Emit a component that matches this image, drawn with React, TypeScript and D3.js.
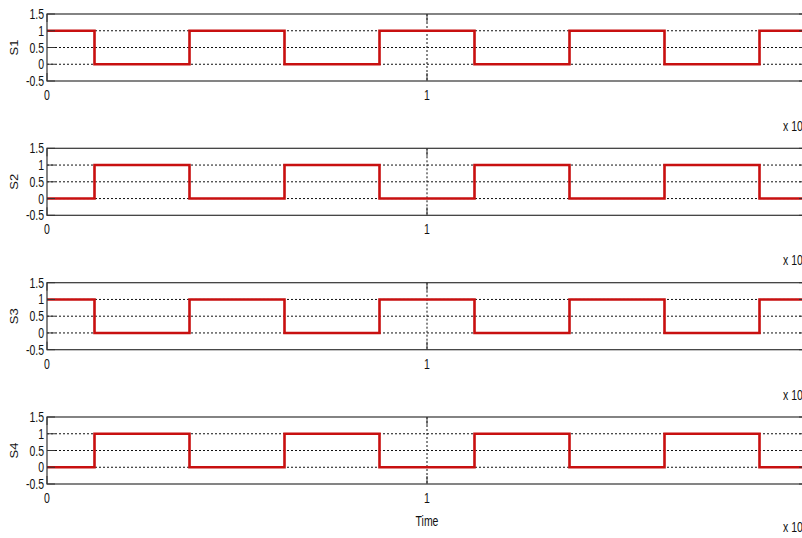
import React from "react";
import * as d3 from "d3";

// switching instants (time axis, units of x 10^n) and the level held after each
const edgeTimes = [0, 0.125, 0.375, 0.625, 0.875, 1.125, 1.375, 1.625, 1.875, 2.0];
const s1Levels = [1, 0, 1, 0, 1, 0, 1, 0, 1, 1];
const s2Levels = [0, 1, 0, 1, 0, 1, 0, 1, 0, 0];
const s3Levels = [1, 0, 1, 0, 1, 0, 1, 0, 1, 1];
const s4Levels = [0, 1, 0, 1, 0, 1, 0, 1, 0, 0];

const seriesNames = ["S1", "S2", "S3", "S4"];
const seriesLevels = [s1Levels, s2Levels, s3Levels, s4Levels];

const yTicks = [-0.5, 0, 0.5, 1, 1.5];
const yTickLabels = ["-0.5", "0", "0.5", "1", "1.5"];
// the tick at 2 sits past the right edge of the window, so only 0 and 1 get labels
const xTicks = [0, 1, 2];
const xTickLabels = ["0", "1"];

const W = 802;
const H = 538;
const plotLeft = 47;
const plotRight = 807;
const panelTops = [14, 148.3, 282.7, 417];
const panelH = 67;
const FONT = "'Liberation Sans', Arial, sans-serif";
const SQ = 0.7; // horizontal squeeze of the text

const Panel = ({ name, levels, top, last }: { name: string; levels: number[]; top: number; last: boolean }) => {
  const x = d3.scaleLinear().domain([0, 2]).range([plotLeft, plotRight]);
  const y = d3.scaleLinear().domain([-0.5, 1.5]).range([top + panelH, top]);
  const pts = edgeTimes.map((t, i) => [t, levels[i]] as [number, number]);
  const line = d3
    .line<[number, number]>()
    .x((d) => x(d[0]))
    .y((d) => y(d[1]))
    .curve(d3.curveStepAfter);
  const tickLen = 8;
  const sq = (tx: number, ty: number) => `translate(${tx},${ty}) scale(${SQ},1)`;

  return (
    <g>
      {/* grid */}
      {yTicks
        .filter((v) => v > -0.5 && v < 1.5)
        .map((v) => (
          <line key={"gy" + v} x1={plotLeft} x2={plotRight} y1={y(v)} y2={y(v)} stroke="#111" strokeWidth={1} strokeDasharray="2,2" />
        ))}
      {xTicks
        .filter((v) => v > 0 && v < 2)
        .map((v) => (
          <line key={"gx" + v} x1={x(v)} x2={x(v)} y1={top} y2={top + panelH} stroke="#111" strokeWidth={1} strokeDasharray="2,2" />
        ))}

      {/* signal */}
      <path d={line(pts) || ""} fill="none" stroke="#c81010" strokeWidth={2.6} strokeLinejoin="miter" />

      {/* box */}
      <rect x={plotLeft} y={top} width={plotRight - plotLeft} height={panelH} fill="none" stroke="#333" strokeWidth={1.2} />

      {/* ticks */}
      {yTicks.map((v) => (
        <g key={"ty" + v}>
          <line x1={plotLeft} x2={plotLeft + tickLen} y1={y(v)} y2={y(v)} stroke="#333" />
          <line x1={plotRight} x2={plotRight - tickLen} y1={y(v)} y2={y(v)} stroke="#333" />
        </g>
      ))}
      {xTicks.map((v) => (
        <g key={"tx" + v}>
          <line x1={x(v)} x2={x(v)} y1={top} y2={top + tickLen} stroke="#333" />
          <line x1={x(v)} x2={x(v)} y1={top + panelH} y2={top + panelH - tickLen} stroke="#333" />
        </g>
      ))}

      {/* tick labels */}
      {yTicks.map((v, i) => (
        <text key={"ly" + v} transform={sq(plotLeft - 3, y(v) + 5)} textAnchor="end" fontFamily={FONT} fontSize={15} fill="#111">
          {yTickLabels[i]}
        </text>
      ))}
      {xTickLabels.map((lab, i) => (
        <text key={"lx" + lab} transform={sq(x(xTicks[i]), top + panelH + 19)} textAnchor="middle" fontFamily={FONT} fontSize={15} fill="#111">
          {lab}
        </text>
      ))}

      {/* y label */}
      <text transform={`translate(18,${top + panelH / 2}) rotate(-90) scale(1,0.8)`} textAnchor="middle" fontFamily={FONT} fontSize={13} fill="#111">
        {name}
      </text>

      {/* exponent */}
      <text transform={sq(783, top + panelH + (last ? 48 : 50))} fontFamily={FONT} fontSize={15} fill="#111">
        x 10
      </text>

      {last && (
        <text transform={sq(x(1), top + panelH + 42)} textAnchor="middle" fontFamily={FONT} fontSize={15} fill="#111">
          Time
        </text>
      )}
    </g>
  );
};

export default function App() {
  return (
    <svg width={W} height={H} style={{ position: "absolute", left: 0, top: 0, background: "#fff" }}>
      <rect x={0} y={0} width={W} height={H} fill="#fff" />
      {seriesNames.map((n, i) => (
        <Panel key={n} name={n} levels={seriesLevels[i]} top={panelTops[i]} last={i === seriesNames.length - 1} />
      ))}
    </svg>
  );
}
